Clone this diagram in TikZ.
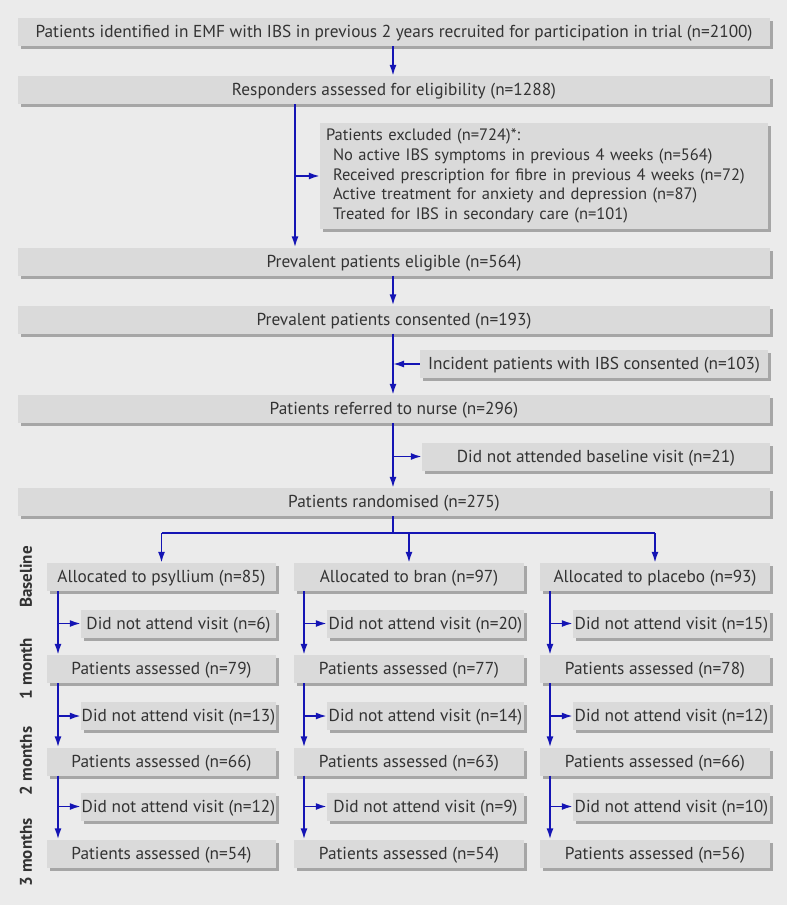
\documentclass[tikz,border=0pt]{standalone}
\usepackage{fontspec}
\setmainfont{PT Sans}
\usetikzlibrary{arrows.meta,shadows,calc}
\definecolor{bg}{HTML}{EBEBEB}
\definecolor{boxgray}{HTML}{DADADA}
\definecolor{shadowgray}{HTML}{A6A6A6}
\definecolor{arrowblue}{HTML}{1414B4}
\definecolor{textcol}{HTML}{333333}
\tikzset{
  basebox/.style={fill=boxgray, inner sep=0pt, text=textcol,
    font=\fontsize{17.3}{19.5}\selectfont,
    general shadow={fill=shadowgray, shadow xshift=3pt, shadow yshift=-3pt}},
  box/.style={basebox, minimum height=28pt, text height=13pt, text depth=2pt},
  flow/.style={draw=arrowblue, line width=1.7pt},
  arr/.style={flow, -{Latex[length=11pt,width=7pt]}},
  side/.style={rotate=90, text=textcol, font=\fontsize{17}{20}\selectfont\bfseries}
}
\begin{document}
\begin{tikzpicture}[x=1pt,y=-1pt]
\useasboundingbox[fill=bg] (0,0) rectangle (787,905);
% top chain
\node[box, minimum width=752pt] (b1) at (394,32) {Patients identified in EMF with IBS in previous 2 years recruited for participation in trial (n=2100)};
\node[box, minimum width=752pt] (b2) at (394,90) {Responders assessed for eligibility (n=1288)};
\node[basebox, minimum width=448pt, minimum height=106pt, align=left, text width=436pt,
      font=\fontsize{16.5}{19.6}\selectfont] (ex) at (544,176)
 {Patients excluded (n=724)*:\\
 \hspace*{7pt}No active IBS symptoms in previous 4 weeks (n=564)\\
 \hspace*{7pt}Received prescription for fibre in previous 4 weeks (n=72)\\
 \hspace*{7pt}Active treatment for anxiety and depression (n=87)\\
 \hspace*{7pt}Treated for IBS in secondary care (n=101)};
\node[box, minimum width=752pt] (b3) at (394,261.5) {Prevalent patients eligible (n=564)};
\node[box, minimum width=752pt] (b4) at (394,319.5) {Prevalent patients consented (n=193)};
\node[box, minimum width=348pt] (inc) at (594,364) {Incident patients with IBS consented (n=103)};
\node[box, minimum width=752pt] (b5) at (394,409) {Patients referred to nurse (n=296)};
\node[box, minimum width=348pt] (dnb) at (596,456.5) {Did not attended baseline visit (n=21)};
\node[box, minimum width=752pt] (b6) at (394,502) {Patients randomised (n=275)};
% allocation rows
\node[box, minimum width=229pt] (a1) at (161.5,577) {Allocated to psyllium (n=85)};
\node[box, minimum width=230pt] (a2) at (409,577) {Allocated to bran (n=97)};
\node[box, minimum width=230pt] (a3) at (655,577) {Allocated to placebo (n=93)};
% psyllium column
\node[box, minimum width=195pt] (d11) at (178.5,623.5) {Did not attend visit (n=6)};
\node[box, minimum width=229pt] (p11) at (161.5,669) {Patients assessed (n=79)};
\node[box, minimum width=195pt] (d12) at (178.5,716) {Did not attend visit (n=13)};
\node[box, minimum width=229pt] (p12) at (161.5,761.5) {Patients assessed (n=66)};
\node[box, minimum width=195pt] (d13) at (178.5,806.5) {Did not attend visit (n=12)};
\node[box, minimum width=229pt] (p13) at (161.5,853.5) {Patients assessed (n=54)};
% bran column
\node[box, minimum width=197pt] (d21) at (425.5,623.5) {Did not attend visit (n=20)};
\node[box, minimum width=230pt] (p21) at (409,669) {Patients assessed (n=77)};
\node[box, minimum width=197pt] (d22) at (425.5,716) {Did not attend visit (n=14)};
\node[box, minimum width=230pt] (p22) at (409,761.5) {Patients assessed (n=63)};
\node[box, minimum width=197pt] (d23) at (425.5,806.5) {Did not attend visit (n=9)};
\node[box, minimum width=230pt] (p23) at (409,853.5) {Patients assessed (n=54)};
% placebo column
\node[box, minimum width=197pt] (d31) at (671.5,623.5) {Did not attend visit (n=15)};
\node[box, minimum width=230pt] (p31) at (655,669) {Patients assessed (n=78)};
\node[box, minimum width=197pt] (d32) at (671.5,716) {Did not attend visit (n=12)};
\node[box, minimum width=230pt] (p32) at (655,761.5) {Patients assessed (n=66)};
\node[box, minimum width=197pt] (d33) at (671.5,806.5) {Did not attend visit (n=10)};
\node[box, minimum width=230pt] (p33) at (655,853.5) {Patients assessed (n=56)};
% side labels
\node[side] (s0) at (26,577) {Baseline};
\node[side] (s1) at (26,668.5) {1 month};
\node[side] (s2) at (26,761) {2 months};
\node[side] (s3) at (26,852.5) {3 months};
% connectors top
\coordinate (t1) at (393,0);
\coordinate (t2) at (295,0);
\draw[arr] (t1 |- b1.south) -- (t1 |- b2.north);
\draw[arr] (t2 |- b2.south) -- (t2 |- b3.north);
\draw[arr] (t2 |- ex.west) -- (ex.west);
\draw[arr] (t1 |- b3.south) -- (t1 |- b4.north);
\draw[arr] (t1 |- b4.south) -- (t1 |- b5.north);
\draw[arr] (inc.west) -- (t1 |- inc.west);
\draw[arr] (t1 |- b5.south) -- (t1 |- b6.north);
\draw[arr] (t1 |- dnb.west) -- (dnb.west);
\coordinate (sp) at (393,533);
\draw[flow] (t1 |- b6.south) -- (sp);
\draw[flow] (a1.north |- sp) -- (a3.north |- sp);
\draw[arr] (a1.north |- sp) -- (a1.north);
\draw[arr] (a2.north |- sp) -- (a2.north);
\draw[arr] (a3.north |- sp) -- (a3.north);
% columns
\foreach \c/\xx in {1/58,2/304,3/550}{
  \coordinate (v\c) at (\xx,0);
  \draw[arr] (v\c |- a\c.south) -- (v\c |- p\c1.north);
  \draw[arr] (v\c |- d\c1.west) -- (d\c1.west);
  \draw[arr] (v\c |- p\c1.south) -- (v\c |- p\c2.north);
  \draw[arr] (v\c |- d\c2.west) -- (d\c2.west);
  \draw[arr] (v\c |- p\c2.south) -- (v\c |- p\c3.north);
  \draw[arr] (v\c |- d\c3.west) -- (d\c3.west);
}
\end{tikzpicture}
\end{document}
